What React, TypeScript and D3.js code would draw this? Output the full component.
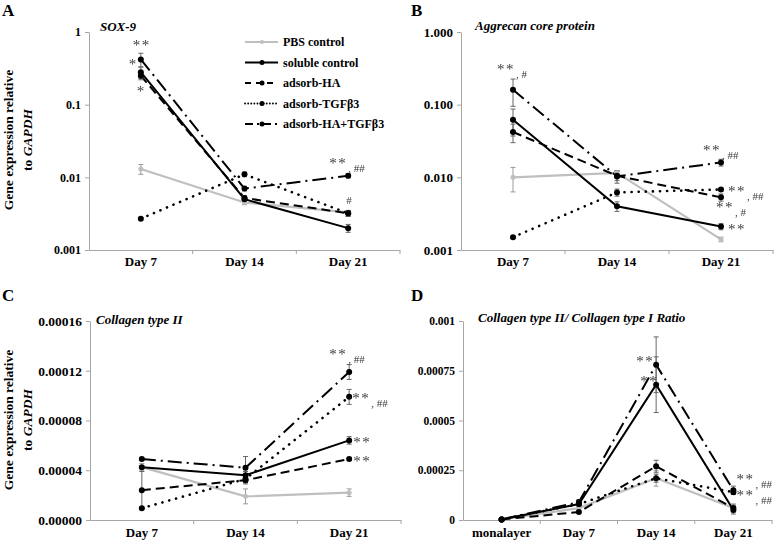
import React, { useEffect, useRef } from 'react';
import * as d3 from 'd3';

// ---- data ----
const seriesNames = ['PBS control', 'soluble control', 'adsorb-HA', 'adsorb-TGFβ3', 'adsorb-HA+TGFβ3'];
const dayLabels = ['Day 7', 'Day 14', 'Day 21'];
const ratioLabels = ['monalayer', 'Day 7', 'Day 14', 'Day 21'];

// A: SOX-9
const soxValues = [
  [0.013, 0.0045, 0.0033],
  [0.28, 0.005, 0.002],
  [0.25, 0.0052, 0.0032],
  [0.0027, 0.011, 0.0032],
  [0.42, 0.007, 0.0105],
];
const soxErrors = [
  [0.002, 0.0003, 0.0002],
  [0.05, 0.0004, 0.00025],
  [0.03, 0.0004, 0.0003],
  [0.0001, 0.0008, 0.0003],
  [0.09, 0.0005, 0.0007],
];
const soxTicks = [1, 0.1, 0.01, 0.001];
const soxTickLabels = ['1', '0.1', '0.01', '0.001'];
const soxMarks = [[4, 0, '**', ''], [1, 0, '*', ''], [2, 0, '*', ''], [4, 2, '**', '##'], [2, 2, '', '#']];

// B: Aggrecan
const aggValues = [
  [0.01, 0.0115, 0.0014],
  [0.062, 0.004, 0.0021],
  [0.042, 0.0105, 0.0053],
  [0.0015, 0.0062, 0.0068],
  [0.16, 0.0103, 0.016],
];
const aggErrors = [
  [0.0037, 0.0008, 0.0001],
  [0.025, 0.0006, 0.0002],
  [0.012, 0.0015, 0.0006],
  [0.00005, 0.0007, 0.0003],
  [0.065, 0.002, 0.0017],
];
const aggTicks = [1, 0.1, 0.01, 0.001];
const aggTickLabels = ['1.000', '0.100', '0.010', '0.001'];
const aggMarks = [[4, 0, '**', '#'], [4, 2, '**', '##'], [3, 2, '**', '##'], [2, 2, '**', '#'], [1, 2, '**', '']];

// C: Collagen type II
const col2Values = [
  [0.0000425, 0.000019, 0.000022],
  [0.0000425, 0.000036, 0.000064],
  [0.000024, 0.000032, 0.000049],
  [0.0000095, 0.000033, 0.000099],
  [0.000049, 0.000042, 0.000119],
];
const col2Errors = [
  [0.000003, 0.000006, 0.000003],
  [0.000001, 0.000003, 0.000003],
  [0.000015, 0.000003, 0.000001],
  [0.000001, 0.000003, 0.000006],
  [0.000001, 0.000009, 0.000006],
];
const col2Ticks = [0, 0.00004, 0.00008, 0.00012, 0.00016];
const col2TickLabels = ['0.00000', '0.00004', '0.00008', '0.00012', '0.00016'];
const col2Marks = [[4, 2, '**', '##'], [3, 2, '**', '##'], [1, 2, '**', ''], [2, 2, '**', '']];

// D: Collagen II / I ratio
const ratioValues = [
  [0.000003, 0.00006, 0.00021, 0.00006],
  [0.000003, 0.00008, 0.00068, 0.00005],
  [0.000003, 0.00004, 0.00027, 0.00006],
  [0.000003, 0.00008, 0.00021, 0.00014],
  [0.000003, 0.00009, 0.00078, 0.00015],
];
const ratioErrors = [
  [0, 0.000005, 0.00004, 0.00001],
  [0, 0.000008, 0.00014, 0.00002],
  [0, 0.000005, 0.00003, 0.00002],
  [0, 0.000005, 0.00002, 0.00001],
  [0, 0.00001, 0.00014, 0.00002],
];
const ratioTicks = [0, 0.00025, 0.0005, 0.00075, 0.001];
const ratioTickLabels = ['0', '0.00025', '0.0005', '0.00075', '0.001'];
const ratioMarks = [[4, 2, '**', ''], [1, 2, '**', ''], [4, 3, '**', '##'], [3, 3, '**', '##']];

// ---- layout / style ----
const serif = "'Liberation Serif', 'Times New Roman', serif";
const axisColor = '#a6a6a6';
const errColor = '#666';
const markColor = '#3a3a3a';

const lineStyles = [
  { color: '#bfbfbf', dash: null, width: 2.2, cap: 'butt', r: 2.5 },
  { color: '#000', dash: null, width: 2, cap: 'butt', r: 3 },
  { color: '#000', dash: '9,5', width: 2, cap: 'butt', r: 3 },
  { color: '#000', dash: '0.1,7', width: 2.6, cap: 'round', r: 3 },
  { color: '#000', dash: '14,5,2,5', width: 2, cap: 'butt', r: 3 },
];

const panels = [
  {
    letter: 'A', letterX: 2, letterY: 16, title: 'SOX-9', titleX: 100, titleY: 31,
    left: 89, right: 400, top: 32, bottom: 250, log: true, domain: [0.001, 1],
    ticks: soxTicks, tickLabels: soxTickLabels, tickFont: 12, cats: dayLabels, xPad: 7,
    values: soxValues, errors: soxErrors, marks: soxMarks,
    markOffsets: [[-8, -9], [-12, -3], [-4, 20], [-19, -8], [-2, -9]],
    yTitleY: 140,
  },
  {
    letter: 'B', letterX: 411, letterY: 16, title: 'Aggrecan core protein', titleX: 475, titleY: 30,
    left: 461, right: 773, top: 32, bottom: 250, log: true, domain: [0.001, 1],
    ticks: aggTicks, tickLabels: aggTickLabels, tickFont: 13, cats: dayLabels, xPad: 7,
    values: aggValues, errors: aggErrors, marks: aggMarks,
    markOffsets: [[-16, -16], [-18, -8], [7, 6], [-5, 15], [7, 7]],
    yTitleY: null,
  },
  {
    letter: 'C', letterX: 2, letterY: 301, title: 'Collagen type II', titleX: 96, titleY: 324,
    left: 90, right: 401, top: 321, bottom: 520, log: false, domain: [0, 0.00016],
    ticks: col2Ticks, tickLabels: col2TickLabels, tickFont: 13.5, cats: dayLabels, xPad: 8,
    values: col2Values, errors: col2Errors, marks: col2Marks,
    markOffsets: [[-20, -13], [3, 6], [4, 7], [4, 7]],
    yTitleY: 420,
  },
  {
    letter: 'D', letterX: 411, letterY: 301, title: 'Collagen type II/ Collagen type I Ratio', titleX: 478, titleY: 322,
    left: 463, right: 772, top: 321, bottom: 520, log: false, domain: [0, 0.001],
    ticks: ratioTicks, tickLabels: ratioTickLabels, tickFont: 11.5, cats: ratioLabels, xPad: 8,
    values: ratioValues, errors: ratioErrors, marks: ratioMarks,
    markOffsets: [[-20, 1], [-16, 1], [3, -6], [3, 8]],
    yTitleY: null,
  },
];

function drawPanel(svg: any, p: any) {
  const g = svg.append('g');
  const x = d3.scaleBand<string>().domain(p.cats).range([p.left, p.right]);
  const y: any = p.log
    ? d3.scaleLog().domain(p.domain).range([p.bottom, p.top])
    : d3.scaleLinear().domain(p.domain).range([p.bottom, p.top]);
  const cx = (i: number) => (x(p.cats[i]) as number) + x.bandwidth() / 2;

  // y axis
  const ya = g.append('g')
    .attr('transform', `translate(${p.left},0)`)
    .call(d3.axisLeft(y).tickValues(p.ticks)
      .tickFormat((d: any) => p.tickLabels[p.ticks.indexOf(d)])
      .tickSize(4).tickSizeOuter(0).tickPadding(4));
  ya.attr('font-family', serif);
  ya.select('.domain').attr('stroke', axisColor);
  ya.selectAll('line').attr('stroke', axisColor);
  ya.selectAll('text').attr('font-weight', 'bold').attr('font-size', p.tickFont).attr('fill', '#000');

  // x axis
  const xa = g.append('g')
    .attr('transform', `translate(0,${p.bottom})`)
    .call(d3.axisBottom(x).tickSize(0).tickPadding(p.xPad));
  xa.attr('font-family', serif);
  xa.select('.domain').attr('stroke', axisColor);
  xa.selectAll('text').attr('font-weight', 'bold').attr('font-size', 13).attr('fill', '#000');
  p.cats.forEach((c: string) => {
    const bx = (x(c) as number) + x.bandwidth();
    g.append('line').attr('x1', bx).attr('x2', bx).attr('y1', p.bottom).attr('y2', p.bottom + 4)
      .attr('stroke', axisColor);
  });

  // series lines
  const line = d3.line<number>().x((_, i) => cx(i)).y(d => y(d));
  p.values.forEach((vals: number[], s: number) => {
    const st = lineStyles[s];
    g.append('path').attr('d', line(vals)).attr('fill', 'none')
      .attr('stroke', st.color).attr('stroke-width', st.width)
      .attr('stroke-dasharray', st.dash).attr('stroke-linecap', st.cap);
  });

  // error bars
  p.values.forEach((vals: number[], s: number) => {
    vals.forEach((v, i) => {
      const e = p.errors[s][i];
      if (!e) return;
      const lo = p.log ? Math.max(v - e, v * 0.2) : v - e;
      const y1 = y(lo), y2 = y(v + e), xx = cx(i);
      const eg = g.append('g').attr('stroke', s === 0 ? '#9a9a9a' : errColor).attr('stroke-width', 1);
      eg.append('line').attr('x1', xx).attr('x2', xx).attr('y1', y1).attr('y2', y2);
      eg.append('line').attr('x1', xx - 2.5).attr('x2', xx + 2.5).attr('y1', y1).attr('y2', y1);
      eg.append('line').attr('x1', xx - 2.5).attr('x2', xx + 2.5).attr('y1', y2).attr('y2', y2);
    });
  });

  // markers
  p.values.forEach((vals: number[], s: number) => {
    const st = lineStyles[s];
    vals.forEach((v, i) => {
      g.append('circle').attr('cx', cx(i)).attr('cy', y(v)).attr('r', st.r).attr('fill', st.color);
    });
  });

  // significance marks (grayscale filter stops coloured fringes on the thin glyphs)
  const mg = g.append('g').style('filter', 'grayscale(1)');
  p.marks.forEach((m: any[], k: number) => {
    const [s, i, stars, hash] = m;
    const [dx, dy] = p.markOffsets[k];
    const t = mg.append('text').attr('x', cx(i) + dx).attr('y', y(p.values[s][i]) + dy)
      .attr('font-family', serif).attr('fill', markColor);
    if (stars) {
      t.append('tspan').attr('font-size', 15).attr('letter-spacing', 1.5).text(stars);
      if (hash) t.append('tspan').attr('font-size', 11).attr('dx', 1).attr('dy', 4).text(', ' + hash);
    } else if (hash) {
      t.append('tspan').attr('font-size', 11).text(hash);
    }
  });

  // panel letter and title
  g.append('text').attr('x', p.letterX).attr('y', p.letterY)
    .attr('font-family', serif).attr('font-weight', 'bold').attr('font-size', 17).text(p.letter);
  g.append('text').attr('x', p.titleX).attr('y', p.titleY)
    .attr('font-family', serif).attr('font-weight', 'bold').attr('font-style', 'italic')
    .attr('font-size', 13).text(p.title);

  // y axis title
  if (p.yTitleY != null) {
    const yt = g.append('text').attr('transform', `translate(13,${p.yTitleY}) rotate(-90)`)
      .attr('text-anchor', 'middle').attr('font-family', serif).attr('font-weight', 'bold').attr('font-size', 13.5);
    yt.append('tspan').attr('x', 0).attr('y', 0).text('Gene expression relative');
    const t2 = yt.append('tspan').attr('x', 0).attr('y', 19);
    t2.append('tspan').text('to ');
    t2.append('tspan').attr('font-style', 'italic').text('GAPDH');
  }
}

function drawLegend(svg: any) {
  const lg = svg.append('g');
  const rowY = d3.scalePoint<string>().domain(seriesNames).range([42, 124]);
  seriesNames.forEach((name, s) => {
    const st = lineStyles[s];
    const yy = rowY(name) as number;
    lg.append('line').attr('x1', 245).attr('x2', 278).attr('y1', yy).attr('y2', yy)
      .attr('stroke', st.color).attr('stroke-width', s === 3 ? 1.8 : st.width)
      .attr('stroke-dasharray', s === 3 ? '0.1,3' : st.dash === '14,5,2,5' ? '8,4,2,4' : st.dash === '9,5' ? '6,5' : null)
      .attr('stroke-linecap', st.cap);
    lg.append('circle').attr('cx', 262).attr('cy', yy).attr('r', s === 0 ? 2 : 2.5).attr('fill', st.color);
    lg.append('text').attr('x', 283).attr('y', yy + 4)
      .attr('font-family', serif).attr('font-weight', 'bold').attr('font-size', 12).text(name);
  });
}

export default function App() {
  const ref = useRef<SVGSVGElement>(null);
  useEffect(() => {
    if (!ref.current) return;
    const svg = d3.select(ref.current);
    svg.selectAll('*').remove();
    panels.forEach(p => drawPanel(svg, p));
    drawLegend(svg);
  }, []);
  return (
    <svg ref={ref} width={778} height={544}
      style={{ position: 'absolute', left: 0, top: 0, background: '#fff' }} />
  );
}
